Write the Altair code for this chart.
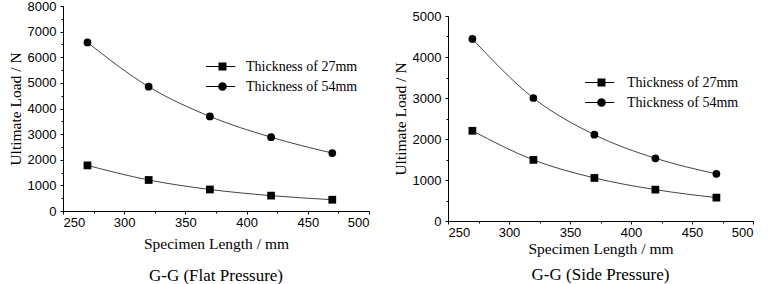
import altair as alt
import pandas as pd

lengths = [270, 320, 370, 420, 470]
series_names = ["Thickness of 27mm", "Thickness of 54mm"]
flat_27 = [1780, 1210, 840, 600, 440]
flat_54 = [6580, 4850, 3690, 2880, 2260]
side_27 = [2200, 1490, 1050, 765, 570]
side_54 = [4440, 3000, 2105, 1530, 1150]
x_ticks = list(range(250, 501, 25))
flat_ticks = list(range(0, 8001, 500))
side_ticks = list(range(0, 5001, 500))

SERIF = "Liberation Serif"
SANS = "Liberation Sans"

# legend glyphs: thin bar - marker - thin bar (all filled shapes)
SQ = ("M-2.2,-0.07H-0.53V0.07H-2.2Z M0.53,-0.07H1.7V0.07H0.53Z "
      "M-0.53,-0.53H0.53V0.53H-0.53Z")
CI = ("M-2.2,-0.07H-0.58V0.07H-2.2Z M0.58,-0.07H1.7V0.07H0.58Z "
      "M-0.58,0A0.58,0.58 0 1,0 0.58,0A0.58,0.58 0 1,0 -0.58,0Z")


def make_df(a, b):
    rows = []
    for s, vals in zip(series_names, [a, b]):
        for L, v in zip(lengths, vals):
            rows.append({"length": L, "load": v, "series": s, "key": s})
    return pd.DataFrame(rows)


def panel(df, ymax, yticks, subtitle, lx, ly, loff, sub_offset, xtitle_pad):
    x = alt.X(
        "length:Q",
        scale=alt.Scale(domain=[250, 500], nice=False, zero=False),
        axis=alt.Axis(
            values=x_ticks,
            title="Specimen Length / mm",
            titlePadding=xtitle_pad,
            grid=False,
            labelPadding=2,
            labelExpr="datum.value % 50 === 0 ? datum.label : ''",
            tickSize={"condition": {"test": "datum.value % 50 === 0", "value": 3}, "value": 2},
            labelOverlap=False,
        ),
    )
    y = alt.Y(
        "load:Q",
        scale=alt.Scale(domain=[0, ymax], nice=False),
        axis=alt.Axis(
            values=yticks,
            title="Ultimate Load / N",
            grid=False,
            labelPadding=4,
            labelExpr="datum.value % 1000 === 0 ? datum.label : ''",
            tickSize={"condition": {"test": "datum.value % 1000 === 0", "value": 3}, "value": 2},
            labelOverlap=False,
            format="d",
        ),
    )
    base = alt.Chart(df)
    lines = base.mark_line(color="#444444", strokeWidth=1, interpolate="monotone").encode(
        x=x, y=y, detail="series:N"
    )
    pts = base.mark_point(filled=True, color="black", size=60, opacity=1).encode(
        x=x,
        y=y,
        shape=alt.Shape(
            "series:N",
            scale=alt.Scale(domain=series_names, range=["square", "circle"]),
            legend=None,
        ),
    )
    leg = base.mark_point(filled=True, color="black", size=225, opacity=0).encode(
        x=x,
        y=y,
        shape=alt.Shape(
            "key:N",
            scale=alt.Scale(domain=series_names, range=[SQ, CI]),
            legend=alt.Legend(
                title=None,
                orient="none",
                legendX=lx,
                legendY=ly,
                symbolSize=225,
                symbolOpacity=1,
                symbolFillColor="black",
                labelOffset=loff,
                labelFont=SERIF,
                labelFontSize=14,
                labelColor="black",
                rowPadding=4,
                padding=0,
            ),
        ),
    )
    return (lines + pts + leg).resolve_scale(shape="independent").properties(
        width=306,
        height=205,
        title=alt.TitleParams(
            subtitle,
            orient="bottom",
            font=SERIF,
            fontSize=17,
            fontWeight="normal",
            color="black",
            offset=sub_offset,
            anchor="middle",
        ),
    )


left = panel(make_df(flat_27, flat_54), 8000, flat_ticks, "G-G (Flat Pressure)", 151, 52, 15, 16, 7)
right = panel(make_df(side_27, side_54), 5000, side_ticks, "G-G (Side Pressure)", 145, 58, 17, 10, 2).properties(width=305)

spacer = alt.Chart(pd.DataFrame({"v": [0]})).mark_point(opacity=0).properties(width=1, height=1)

chart = alt.hconcat(left, alt.vconcat(spacer, right, spacing=0), spacing=23).properties(
    padding={"left": 8, "top": 0, "right": 0, "bottom": 0},
    background="white",
).configure_view(stroke=None).configure_axis(
    labelFont=SANS,
    labelFontSize=13,
    labelColor="black",
    titleFont=SERIF,
    titleFontSize=15.5,
    titleFontWeight="normal",
    titleColor="black",
    domainColor="black",
    tickColor="black",
    grid=False,
)

chart.save("out.html", embed_options={"renderer": "svg", "actions": False})
